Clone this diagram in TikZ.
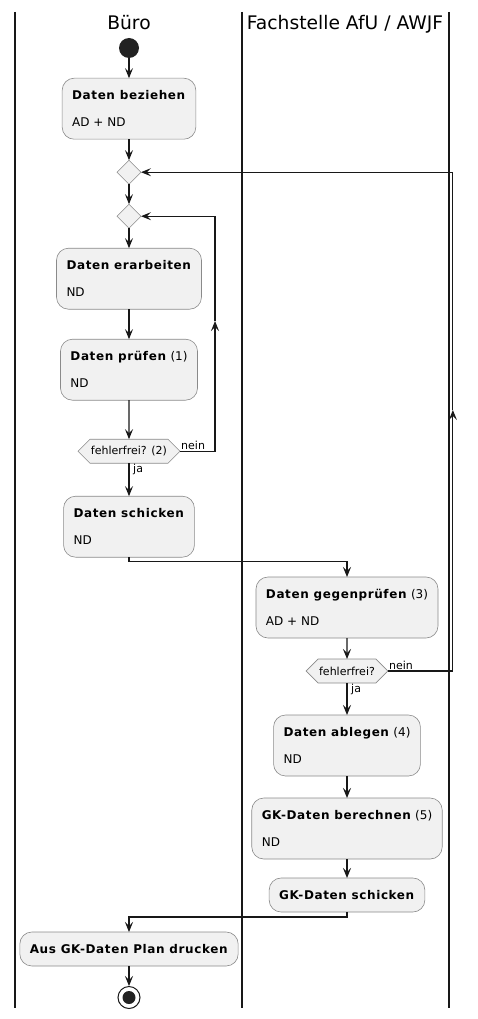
\documentclass[tikz,border=0pt]{standalone}
\usepackage{fontspec}
\setmainfont{DejaVu Sans}[BoldFeatures={LetterSpace=5}]
\usetikzlibrary{positioning, arrows.meta, shapes.geometric, shapes.symbols}
\definecolor{boxfill}{HTML}{F1F1F1}
\definecolor{linecol}{HTML}{181818}
\definecolor{boxline}{HTML}{8A8A8A}
\definecolor{dotfill}{HTML}{222222}

\begin{document}
\begin{tikzpicture}[x=1pt, y=-1pt, node distance=20pt and 20pt]

	% Styles
	\tikzset{
		action/.style={
			rectangle, draw=boxline, line width=0.6pt, rounded corners=12pt,
			fill=boxfill, inner xsep=10pt, minimum height=61pt, outer sep=0pt,
			align=left, font=\fontsize{12}{14}\selectfont
		},
		shortaction/.style={action, minimum height=34pt},
		merge/.style={
			diamond, draw=boxline, line width=0.6pt, fill=boxfill,
			minimum size=24pt, inner sep=0pt, aspect=1, outer sep=0pt
		},
		check/.style={
			signal, signal to=west and east, draw=boxline, line width=0.6pt,
			fill=boxfill, minimum height=24pt, inner xsep=1pt, inner ysep=0pt,
			outer sep=0pt, font=\fontsize{11}{13}\selectfont
		},
		startnode/.style={circle, fill=dotfill, minimum size=20pt, inner sep=0pt},
		stopnode/.style={
			circle, draw=linecol, line width=1pt, fill=white, minimum size=22pt, inner sep=0pt,
			path picture={\fill[dotfill] (path picture bounding box.center) circle (6.5pt);}
		},
		lanetitle/.style={anchor=base, font=\fontsize{18.7}{20}\selectfont},
		lane/.style={line width=1.2pt, draw=linecol},
		line/.style={line width=1.1pt, draw=linecol},
		arrow/.style={line, -{Stealth[length=10pt, width=8pt, inset=4pt]}},
		guard/.style={font=\fontsize{11}{13}\selectfont, inner sep=1pt}
	}

	\useasboundingbox (0,0) rectangle (478,1019);

	% Swimlanes
	\draw[lane] (15,12) -- (15,1008);
	\draw[lane] (242,12) -- (242,1008);
	\draw[lane] (449,12) -- (449,1008);
	\node (buero) [lanetitle] at (129,30) {Büro};
	\node (fachstelle) [lanetitle] at (345,30) {Fachstelle AfU / AWJF};

	% Büro
	\node (start) [startnode] at (129,48) {};
	\node (fetch) [action, below=20pt of start] {\textbf{Daten beziehen}\\[13pt]AD + ND};
	\node (merge1) [merge, below=21pt of fetch] {};
	\node (merge2) [merge, below=20pt of merge1] {};
	\node (work) [action, below=20pt of merge2] {\textbf{Daten erarbeiten}\\[13pt]ND};
	\node (verify) [action, below=30pt of work] {\textbf{Daten prüfen} (1)\\[13pt]ND};
	\node (check1) [check, below=39pt of verify] {fehlerfrei? (2)};
	\node (send) [action, below=33pt of check1] {\textbf{Daten schicken}\\[13pt]ND};

	% Fachstelle
	\node (crosscheck) [action] at (347,607.5) {\textbf{Daten gegenprüfen} (3)\\[13pt]AD + ND};
	\node (check2) [check, below=21pt of crosscheck] {fehlerfrei?};
	\node (store) [action, below=32pt of check2] {\textbf{Daten ablegen} (4)\\[13pt]ND};
	\node (compute) [action, below=22pt of store] {\textbf{GK-Daten berechnen} (5)\\[13pt]ND};
	\node (gksend) [shortaction, below=19pt of compute] {\textbf{GK-Daten schicken}};

	% Büro again
	\node (print) [shortaction] at (129,949) {\textbf{Aus GK-Daten Plan drucken}};
	\node (stop) [stopnode, below=20pt of print] {};

	% Guards
	\node (nein1) [guard, anchor=south west] at (check1.east) {nein};
	\node (ja1) [guard, anchor=north west, xshift=3pt] at (check1.south) {ja};
	\node (nein2) [guard, anchor=south west] at (check2.east) {nein};
	\node (ja2) [guard, anchor=north west, xshift=3pt] at (check2.south) {ja};

	% Loop corners
	\coordinate[right=35pt of check1.east] (innerbot);
	\coordinate (innermid) at (innerbot |- 0,321);
	\coordinate (innertop) at (innerbot |- merge2.east);
	\coordinate[right=65pt of check2.east] (outerbot);
	\coordinate (outermid) at (outerbot |- 0,410);
	\coordinate (outertop) at (outerbot |- merge1.east);

	% Arrows: main flow
	\draw[arrow] (start) -- (fetch);
	\draw[arrow] (fetch) -- (merge1);
	\draw[arrow] (merge1) -- (merge2);
	\draw[arrow] (merge2) -- (work);
	\draw[arrow] (work) -- (verify);
	\draw[arrow] (verify) -- (check1);
	\draw[arrow] (check1) -- (send);
	\draw[arrow] (send.south) -- ++(0,4) -| (crosscheck.north);
	\draw[arrow] (crosscheck) -- (check2);
	\draw[arrow] (check2) -- (store);
	\draw[arrow] (store) -- (compute);
	\draw[arrow] (compute) -- (gksend);
	\draw[arrow] (gksend.south) -- ++(0,5) -| (print.north);
	\draw[arrow] (print) -- (stop);

	% Arrows: loops back
	\draw[arrow] (check1.east) -- (innerbot) -- (innermid);
	\draw[arrow] (innermid) -- (innertop) -- (merge2.east);
	\draw[arrow] (check2.east) -- (outerbot) -- (outermid);
	\draw[arrow] (outermid) -- (outertop) -- (merge1.east);

\end{tikzpicture}
\end{document}
